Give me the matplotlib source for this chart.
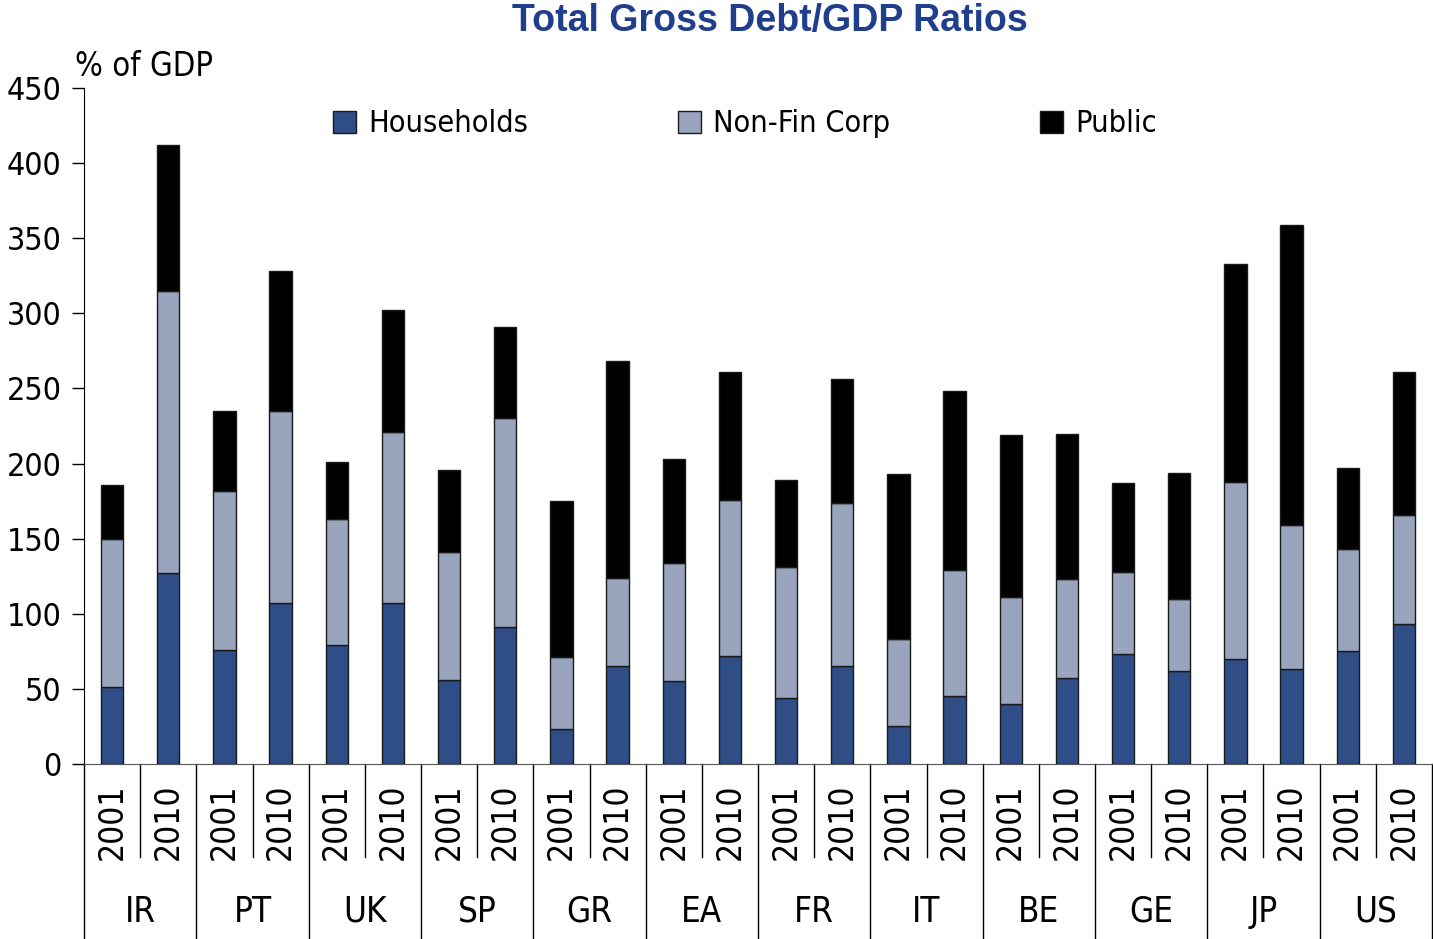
import matplotlib
matplotlib.use("Agg")
import matplotlib.pyplot as plt
from matplotlib.lines import Line2D
from matplotlib.patches import Patch
import numpy as np

plt.rcParams['font.family'] = ['DejaVu Sans']
plt.rcParams['font.stretch'] = 'condensed'

countries = ["IR", "PT", "UK", "SP", "GR", "EA", "FR", "IT", "BE", "GE", "JP", "US"]
years = ["2001", "2010"]
households = [51, 127, 76, 107, 79, 107, 56, 91, 23, 65, 55, 72,
              44, 65, 25, 45, 40, 57, 73, 62, 70, 63, 75, 93]
nonfin_corp = [99, 188, 106, 128, 84, 114, 85, 139, 48, 59, 79, 104,
               87, 109, 58, 84, 71, 66, 55, 48, 118, 96, 68, 73]
public = [36, 97, 53, 93, 38, 81, 55, 61, 104, 144, 69, 85,
          58, 82, 110, 119, 108, 97, 59, 84, 145, 200, 54, 95]

c_hh = '#2F4E88'
c_nfc = '#98A5BD'
c_pub = '#000000'
edge = '#1A1A1A'

W, H = 1433, 939
fig = plt.figure(figsize=(W / 100, H / 100), dpi=100)
ax_left, ax_right, ax_bot, ax_top = 84, 1432, 764, 88
ax = fig.add_axes([ax_left / W, (H - ax_bot) / H, (ax_right - ax_left) / W, (ax_bot - ax_top) / H])

n = len(households)
x = np.arange(n)
hh = np.array(households)
nfc = np.array(nonfin_corp)
pub = np.array(public)
bw = 0.40
ax.bar(x, hh, bw, color=c_hh, edgecolor=edge, linewidth=1, label='Households', zorder=3)
ax.bar(x, nfc, bw, bottom=hh, color=c_nfc, edgecolor=edge, linewidth=1, label='Non-Fin Corp', zorder=3)
ax.bar(x, pub, bw, bottom=hh + nfc, color=c_pub, edgecolor=edge, linewidth=1, label='Public', zorder=3)

ax.set_xlim(-0.5, n - 0.5)
ax.set_ylim(0, 450)
ax.set_yticks(range(0, 451, 50))
ax.tick_params(axis='y', labelsize=23, length=9, width=1, pad=7, direction='out')
ax.set_xticks([])
for s in ['top', 'right']:
    ax.spines[s].set_visible(False)
ax.spines['bottom'].set_color('#555555')
ax.spines['left'].set_color('black')

trans = matplotlib.transforms.blended_transform_factory(ax.transData, fig.transFigure)
def fy(p):
    return (H - p) / H

for g in range(len(countries) + 1):
    xs = 2 * g - 0.5
    ax.add_line(Line2D([xs, xs], [fy(764), fy(939)], transform=trans, color='black', lw=1, clip_on=False))
for g in range(len(countries)):
    xs = 2 * g + 0.5
    ax.add_line(Line2D([xs, xs], [fy(764), fy(857)], transform=trans, color='black', lw=1, clip_on=False))
    ax.text(2 * g + 0.5, fy(912), countries[g], transform=trans, ha='center', va='center', fontsize=25)
    for k, yr in enumerate(years):
        ax.text(2 * g + k, fy(860), yr, transform=trans, ha='center', va='bottom', rotation=90, fontsize=24)

fig.text(770 / W, fy(21), 'Total Gross Debt/GDP Ratios', ha='center', va='center',
         fontsize=27, fontweight='bold', color='#1F3E8C', family=['Liberation Sans', 'DejaVu Sans'],
         fontstretch='normal')
fig.text(75 / W, fy(66), '% of GDP', ha='left', va='center', fontsize=23.5)

handles = [Patch(facecolor=c_hh, edgecolor=edge), Patch(facecolor=c_nfc, edgecolor=edge), Patch(facecolor=c_pub, edgecolor=edge)]
leg = fig.legend(handles, ['Households', 'Non-Fin Corp', 'Public'], loc='center left',
                 bbox_to_anchor=(333 / W, fy(124)), ncol=3, frameon=False, fontsize=22,
                 handlelength=0.75, handleheight=0.75, handletextpad=0.4, columnspacing=4.9,
                 borderpad=0, borderaxespad=0)

fig.savefig('out.png', dpi=100)
